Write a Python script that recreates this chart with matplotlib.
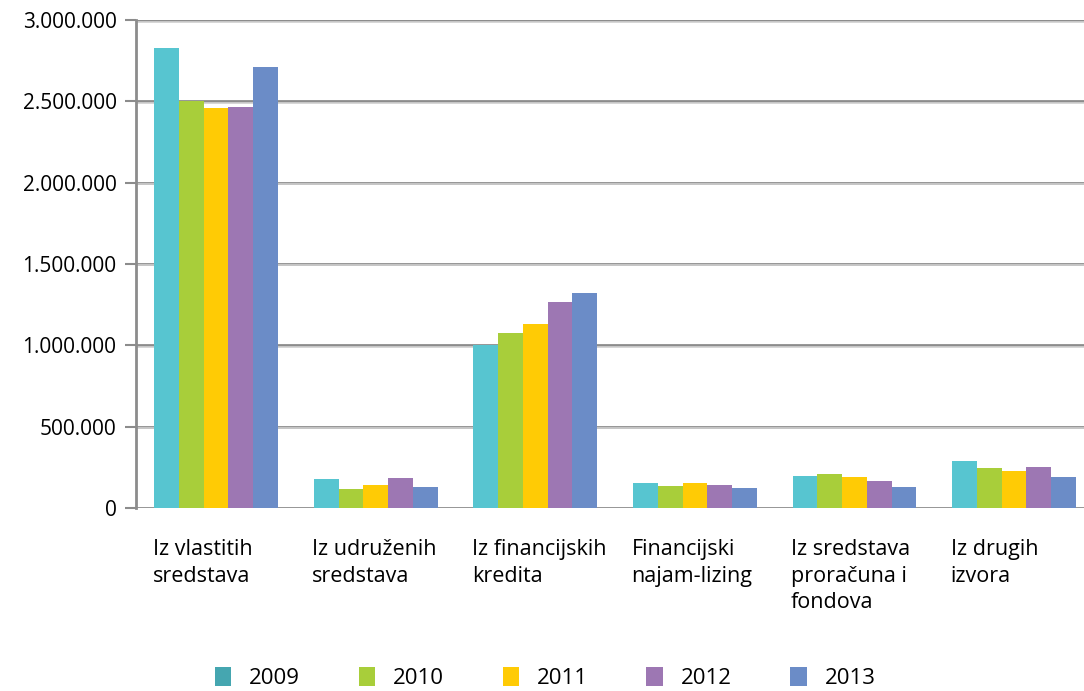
import numpy as np
import matplotlib.pyplot as plt
from matplotlib.patches import Patch
from matplotlib.ticker import FuncFormatter

# podaci
kategorije = ["Iz vlastitih\nsredstava", "Iz udruženih\nsredstava", "Iz financijskih\nkredita",
              "Financijski\nnajam-lizing", "Iz sredstava\nproračuna i\nfondova", "Iz drugih\nizvora"]
godine = ["2009", "2010", "2011", "2012", "2013"]
v2009 = [2828000, 178000, 1002000, 154000, 197000, 289000]
v2010 = [2502000, 117000, 1076000, 135000, 209000, 246000]
v2011 = [2459000, 141000, 1131000, 154000, 191000, 227000]
v2012 = [2465000, 184000, 1266000, 141000, 166000, 252000]
v2013 = [2711000, 129000, 1322000, 123000, 129000, 191000]
serije = [v2009, v2010, v2011, v2012, v2013]

boje = ["#57C5D0", "#A8CE3A", "#FFCB05", "#9D77B3", "#6B8CC7"]
boje_leg = ["#45A6B0", "#A8CE3A", "#FFCB05", "#9D77B3", "#6B8CC7"]

plt.rcParams['font.family'] = ['Open Sans', 'DejaVu Sans']

fig = plt.figure(figsize=(10.84, 6.91), dpi=100)
ax = fig.add_axes([136 / 1084, 0.2648, 948 / 1084, 0.7062])

x = np.arange(len(kategorije))
sirina = 0.155
for i, (vals, c) in enumerate(zip(serije, boje)):
    ax.bar(x + (i - 2) * sirina, vals, sirina, color=c, zorder=3)

ax.set_xlim(-0.502, 5.438)
ax.set_ylim(0, 3000000)
ax.set_yticks(np.arange(0, 3000001, 500000))
ax.yaxis.set_major_formatter(FuncFormatter(lambda v, p: f"{int(v):,}".replace(",", ".")))

# mreža
for yv in np.arange(0, 3000001, 500000):
    ax.axhline(yv, color="#8C8C8C", lw=2, zorder=1)
    ax.axhline(yv - 9000, color="#D0D0D0", lw=1.2, zorder=1)

for s in ["top", "right", "bottom"]:
    ax.spines[s].set_visible(False)
ax.spines["left"].set_color("#8C8C8C")
ax.spines["left"].set_linewidth(2)
ax.tick_params(axis="y", length=8, width=1.5, color="#8C8C8C", labelsize=15, pad=6)
ax.tick_params(axis="x", length=0, labelbottom=False)

# oznake kategorija
for xi, lab in zip(x, kategorije):
    ax.text(xi - 2.5 * sirina - 0.01, -190000, lab, ha="left", va="top", fontsize=15.5,
            linespacing=1.35, clip_on=False)

handles = [Patch(facecolor=c, edgecolor="none") for c in boje_leg]
fig.legend(handles, godine, loc="center", bbox_to_anchor=(0.503, 1 - 678 / 691), ncol=5,
           frameon=False, fontsize=16, handlelength=0.75, handleheight=0.9,
           handletextpad=0.8, columnspacing=2.63)

fig.savefig("out.png", dpi=100)
